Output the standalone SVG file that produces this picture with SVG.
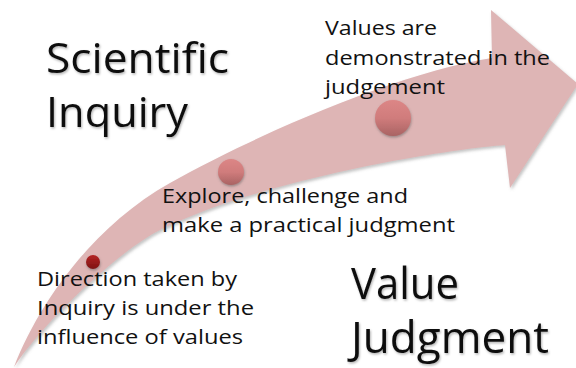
<svg xmlns="http://www.w3.org/2000/svg" width="576" height="368" viewBox="0 0 576 368">
  <defs>
    <filter id="arrowShadow" x="-10%" y="-10%" width="120%" height="120%">
      <feDropShadow dx="1.5" dy="2" stdDeviation="1.8" flood-color="#7a7a7a" flood-opacity="0.45"/>
    </filter>
    <filter id="dotShadow" x="-40%" y="-40%" width="180%" height="180%">
      <feDropShadow dx="0.5" dy="1.5" stdDeviation="1.2" flood-color="#555" flood-opacity="0.5"/>
    </filter>
    <filter id="textShadow" x="-10%" y="-20%" width="120%" height="150%">
      <feDropShadow dx="1" dy="1.5" stdDeviation="1" flood-color="#000" flood-opacity="0.3"/>
    </filter>
    <linearGradient id="gPink" x1="0" y1="0" x2="0" y2="1">
      <stop offset="0" stop-color="#DC8686"/>
      <stop offset="0.5" stop-color="#D07C7C"/>
      <stop offset="1" stop-color="#A96363"/>
    </linearGradient>
    <linearGradient id="gRed" x1="0" y1="0" x2="0" y2="1">
      <stop offset="0" stop-color="#B42424"/>
      <stop offset="1" stop-color="#7E1414"/>
    </linearGradient>
  </defs>
  <style>
    .small { font-family: "Open Sans", "Noto Sans", "Liberation Sans", sans-serif; font-size: 20px; fill: #111; }
    .big { font-family: "Open Sans", "Noto Sans", "Liberation Sans", sans-serif; font-size: 42px; fill: #111; }
    .bigger { font-family: "Open Sans", "Noto Sans", "Liberation Sans", sans-serif; font-size: 43px; fill: #111; }
  </style>
  <rect width="576" height="368" fill="#ffffff"/>

  <g id="connectors">
    <path id="arrow" filter="url(#arrowShadow)" fill="#DEB5B5"
      d="M14,367 C40,300 95,225 170,183 C255,135 400,72 492,58 L491,10 L578,84 L510,188 L505,145 C440,150 260,180 160,230 C120,250 45,320 14,367 Z"/>
  </g>

  <g id="dot-small">
    <circle cx="93" cy="262" r="7" fill="url(#gRed)" filter="url(#dotShadow)"/>
  </g>
  <g id="dot-medium">
    <circle cx="231" cy="172" r="13" fill="url(#gPink)" filter="url(#dotShadow)"/>
  </g>
  <g id="dot-large">
    <circle cx="393" cy="118" r="18" fill="url(#gPink)" filter="url(#dotShadow)"/>
  </g>

  <g id="title-scientific-inquiry" filter="url(#textShadow)">
    <text class="big" x="46" y="73" textLength="183" lengthAdjust="spacingAndGlyphs">Scientific</text>
    <text class="big" x="46" y="127" textLength="142" lengthAdjust="spacingAndGlyphs">Inquiry</text>
  </g>

  <g id="title-value-judgment" filter="url(#textShadow)">
    <text class="bigger" x="351" y="299" textLength="108" lengthAdjust="spacingAndGlyphs">Value</text>
    <text class="bigger" x="351" y="353" textLength="198" lengthAdjust="spacingAndGlyphs">Judgment</text>
  </g>

  <g id="label-values">
    <text class="small" x="325" y="35" textLength="112" lengthAdjust="spacingAndGlyphs">Values are</text>
    <text class="small" x="325" y="65" textLength="225" lengthAdjust="spacingAndGlyphs">demonstrated in the</text>
    <text class="small" x="325" y="94" textLength="120" lengthAdjust="spacingAndGlyphs">judgement</text>
  </g>

  <g id="label-explore">
    <text class="small" x="162" y="203" textLength="246" lengthAdjust="spacingAndGlyphs">Explore, challenge and</text>
    <text class="small" x="162" y="232" textLength="293" lengthAdjust="spacingAndGlyphs">make a practical judgment</text>
  </g>

  <g id="label-direction">
    <text class="small" x="37" y="286" textLength="200" lengthAdjust="spacingAndGlyphs">Direction taken by</text>
    <text class="small" x="37" y="315" textLength="217" lengthAdjust="spacingAndGlyphs">Inquiry is under the</text>
    <text class="small" x="37" y="344" textLength="206" lengthAdjust="spacingAndGlyphs">influence of values</text>
  </g>
</svg>
